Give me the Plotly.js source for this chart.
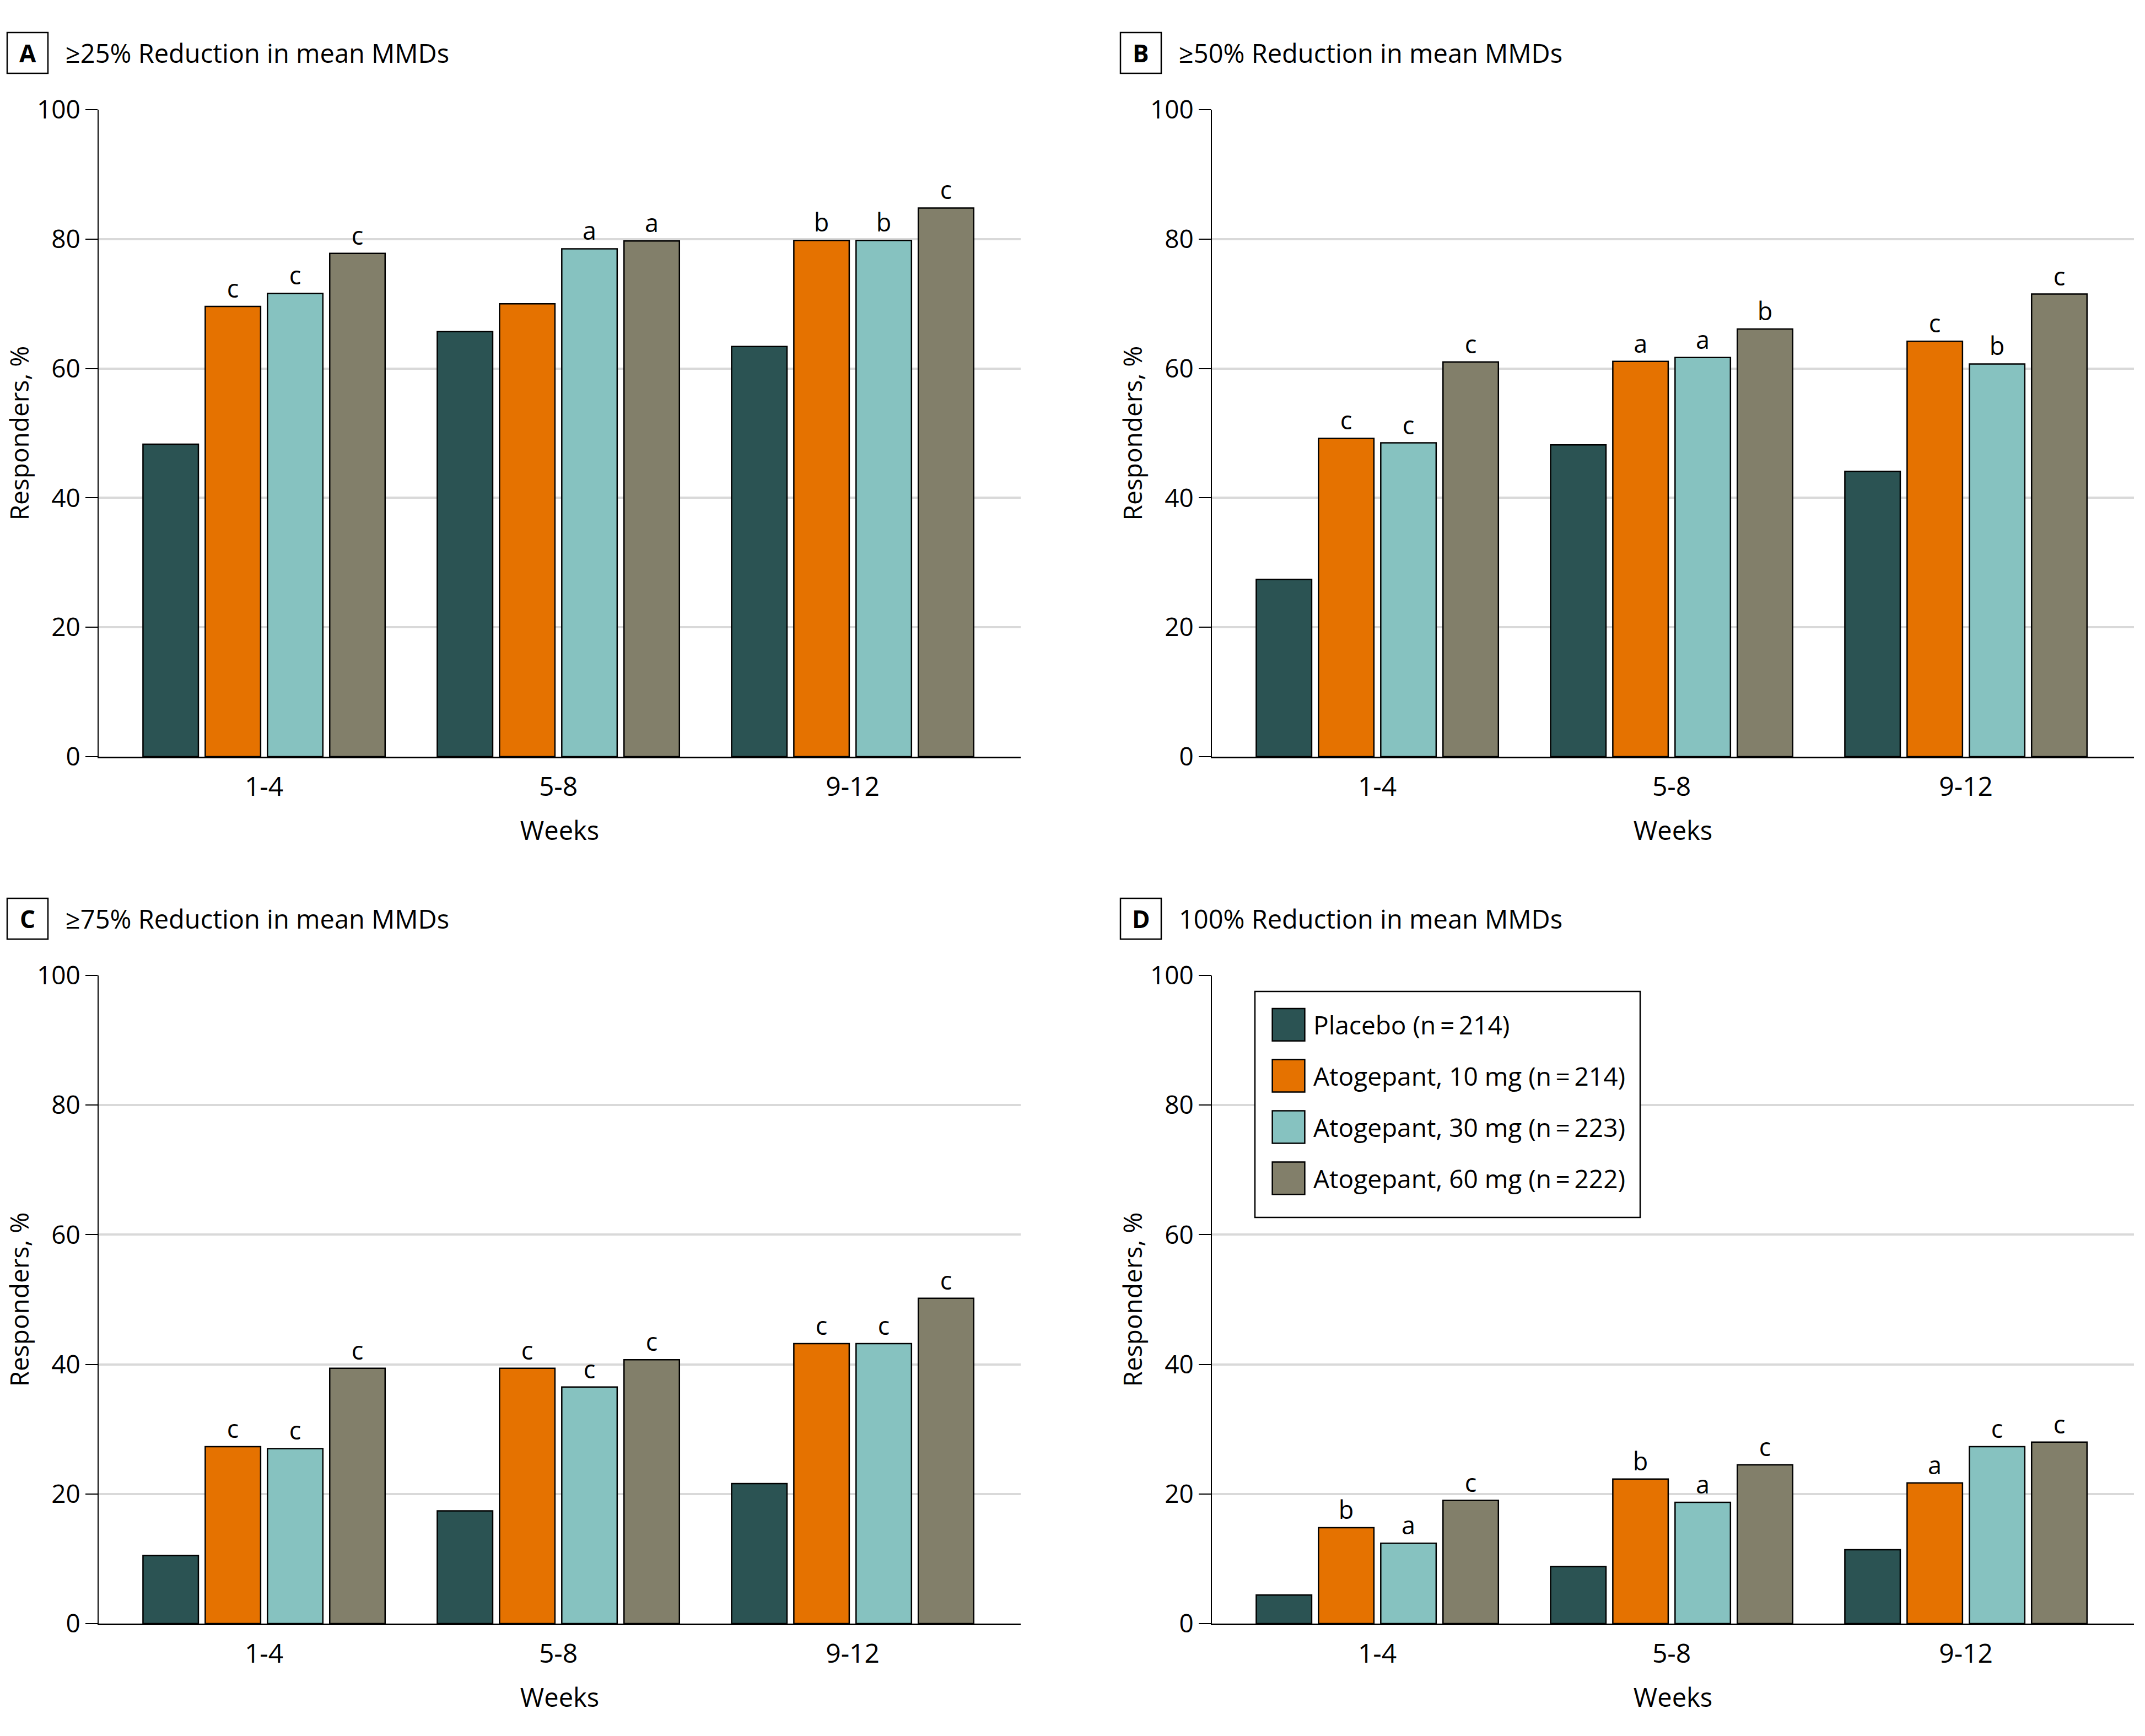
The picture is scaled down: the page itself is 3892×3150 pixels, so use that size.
<!DOCTYPE html>
<html><head><meta charset="utf-8">
<script src="https://cdn.plot.ly/plotly-3.0.1.min.js"></script>
<style>html,body{margin:0;padding:0;background:#fff}</style>
</head><body><div id="chart" style="width:3892px;height:3150px"></div>
<script>
const weeks = ['1-4', '5-8', '9-12'];
const seriesNames = ['Placebo (n\u2009=\u2009214)', 'Atogepant, 10 mg (n\u2009=\u2009214)', 'Atogepant, 30 mg (n\u2009=\u2009223)', 'Atogepant, 60 mg (n\u2009=\u2009222)'];
const seriesColors = ['#2b5353', '#e57200', '#86c2c0', '#827f6a'];

// Panel A: >=25% reduction
const panelA_placebo = [48.3, 65.7, 63.4];
const panelA_10mg = [69.6, 70.0, 79.8];
const panelA_30mg = [71.6, 78.5, 79.8];
const panelA_60mg = [77.8, 79.7, 84.8];
const panelA_sig10 = ['c', '', 'b'];
const panelA_sig30 = ['c', 'a', 'b'];
const panelA_sig60 = ['c', 'a', 'c'];

// Panel B: >=50% reduction
const panelB_placebo = [27.4, 48.2, 44.1];
const panelB_10mg = [49.2, 61.1, 64.2];
const panelB_30mg = [48.5, 61.7, 60.7];
const panelB_60mg = [61.0, 66.1, 71.5];
const panelB_sig10 = ['c', 'a', 'c'];
const panelB_sig30 = ['c', 'a', 'b'];
const panelB_sig60 = ['c', 'b', 'c'];

// Panel C: >=75% reduction
const panelC_placebo = [10.5, 17.4, 21.6];
const panelC_10mg = [27.3, 39.4, 43.2];
const panelC_30mg = [27.0, 36.5, 43.2];
const panelC_60mg = [39.4, 40.7, 50.2];
const panelC_sig10 = ['c', 'c', 'c'];
const panelC_sig30 = ['c', 'c', 'c'];
const panelC_sig60 = ['c', 'c', 'c'];

// Panel D: 100% reduction
const panelD_placebo = [4.4, 8.8, 11.4];
const panelD_10mg = [14.8, 22.3, 21.7];
const panelD_30mg = [12.4, 18.7, 27.3];
const panelD_60mg = [19.0, 24.5, 28.0];
const panelD_sig10 = ['b', 'b', 'a'];
const panelD_sig30 = ['a', 'a', 'c'];
const panelD_sig60 = ['c', 'c', 'c'];

const panelLetters = ['A', 'B', 'C', 'D'];
const panelTitles = ['\u226525% Reduction in mean MMDs', '\u226550% Reduction in mean MMDs', '\u226575% Reduction in mean MMDs', '100% Reduction in mean MMDs'];

const blank = ['', '', ''];
const panels = [
  {vals: [panelA_placebo, panelA_10mg, panelA_30mg, panelA_60mg], sig: [blank, panelA_sig10, panelA_sig30, panelA_sig60]},
  {vals: [panelB_placebo, panelB_10mg, panelB_30mg, panelB_60mg], sig: [blank, panelB_sig10, panelB_sig30, panelB_sig60]},
  {vals: [panelC_placebo, panelC_10mg, panelC_30mg, panelC_60mg], sig: [blank, panelC_sig10, panelC_sig30, panelC_sig60]},
  {vals: [panelD_placebo, panelD_10mg, panelD_30mg, panelD_60mg], sig: [blank, panelD_sig10, panelD_sig30, panelD_sig60]}
];

const W = 3892, H = 3150;
const FONT = 'Open Sans, Noto Sans, sans-serif';
// pixel geometry of the panels
const colsPx = [[179, 1852], [2199, 3872]];
const rowsPx = [[199, 1373], [1770, 2946]];

const traces = [];
panels.forEach((p, pi) => {
  const sfx = pi === 0 ? '' : String(pi + 1);
  p.vals.forEach((v, si) => {
    traces.push({
      type: 'bar', x: weeks, y: v, name: seriesNames[si],
      xaxis: 'x' + sfx, yaxis: 'y' + sfx,
      legendgroup: 'g' + si, showlegend: pi === 3,
      marker: {color: seriesColors[si], line: {color: '#000', width: 2.5}},
      text: p.sig[si], textposition: 'outside', cliponaxis: false,
      constraintext: 'none',
      outsidetextfont: {family: FONT, size: 45, color: '#000'},
      hoverinfo: 'skip'
    });
  });
});

const layout = {
  width: W, height: H,
  margin: {l: 0, r: 0, t: 0, b: 0},
  paper_bgcolor: '#fff', plot_bgcolor: '#fff',
  font: {family: FONT, size: 46, color: '#000'},
  barmode: 'group', bargap: 0.154, bargroupgap: 0.11,
  showlegend: true,
  legend: {
    x: 2293 / W, y: 1 - 1823 / H, xanchor: 'left', yanchor: 'top',
    bgcolor: 'rgba(0,0,0,0)', borderwidth: 0,
    font: {family: FONT, size: 46, color: '#000'},
    traceorder: 'grouped', tracegroupgap: 30, itemwidth: 80,
    itemclick: false
  },
  annotations: [], shapes: []
};

// legend frame
layout.shapes.push({type: 'rect', xref: 'paper', yref: 'paper', layer: 'above',
  x0: 2277 / W, x1: 2976 / W, y0: 1 - 1799 / H, y1: 1 - 2209 / H,
  line: {color: '#000', width: 2.5}, fillcolor: '#fff'});

panels.forEach((p, pi) => {
  const sfx = pi === 0 ? '' : String(pi + 1);
  const c = colsPx[pi % 2], r = rowsPx[Math.floor(pi / 2)];
  layout['xaxis' + sfx] = {
    domain: [c[0] / W, c[1] / W], anchor: 'y' + sfx, type: 'category',
    range: [-0.562, 2.571], showline: true, linecolor: '#000', linewidth: 3,
    ticks: '', showgrid: false, zeroline: false, ticklabelstandoff: 10,
    tickfont: {family: FONT, size: 48}, fixedrange: true,
    title: {text: 'Weeks', font: {family: FONT, size: 47}, standoff: 35}
  };
  layout['yaxis' + sfx] = {
    domain: [1 - r[1] / H, 1 - r[0] / H], anchor: 'x' + sfx,
    range: [0, 100], tickvals: [0, 20, 40, 60, 80, 100],
    showline: true, linecolor: '#000', linewidth: 2,
    ticks: 'outside', ticklen: 22, tickwidth: 2, tickcolor: '#000',
    showgrid: true, gridcolor: '#d9d9d9', gridwidth: 4, zeroline: false,
    tickfont: {family: FONT, size: 46}, fixedrange: true,
    title: {text: 'Responders, %', font: {family: FONT, size: 46}, standoff: 0}
  };
  // panel label box + letter + title
  const bx0 = c[0] - 166, by0 = r[0] - 140;
  layout.shapes.push({type: 'rect', xref: 'paper', yref: 'paper',
    x0: bx0 / W, x1: (bx0 + 74) / W, y0: 1 - by0 / H, y1: 1 - (by0 + 74) / H,
    line: {color: '#000', width: 2.5}, fillcolor: 'rgba(0,0,0,0)'});
  layout.annotations.push({xref: 'paper', yref: 'paper', x: (bx0 + 37) / W, y: 1 - (by0 + 37) / H,
    xanchor: 'center', yanchor: 'middle', showarrow: false,
    text: '<b>' + panelLetters[pi] + '</b>', font: {family: FONT, size: 44, color: '#000'}});
  layout.annotations.push({xref: 'paper', yref: 'paper', x: (bx0 + 104) / W, y: 1 - (by0 + 37) / H,
    xanchor: 'left', yanchor: 'middle', showarrow: false,
    text: panelTitles[pi], font: {family: FONT, size: 47, color: '#000'}});
});

Plotly.newPlot('chart', traces, layout, {staticPlot: true, displayModeBar: false}).then(() => {
  document.querySelectorAll('.legend .legendpoints path').forEach(pth => {
    const t = pth.getAttribute('transform') || '';
    pth.setAttribute('transform', t + ' scale(4.9)');
    pth.style.vectorEffect = 'non-scaling-stroke';
    pth.style.strokeWidth = '2.5px';
  });
});
</script></body></html>
